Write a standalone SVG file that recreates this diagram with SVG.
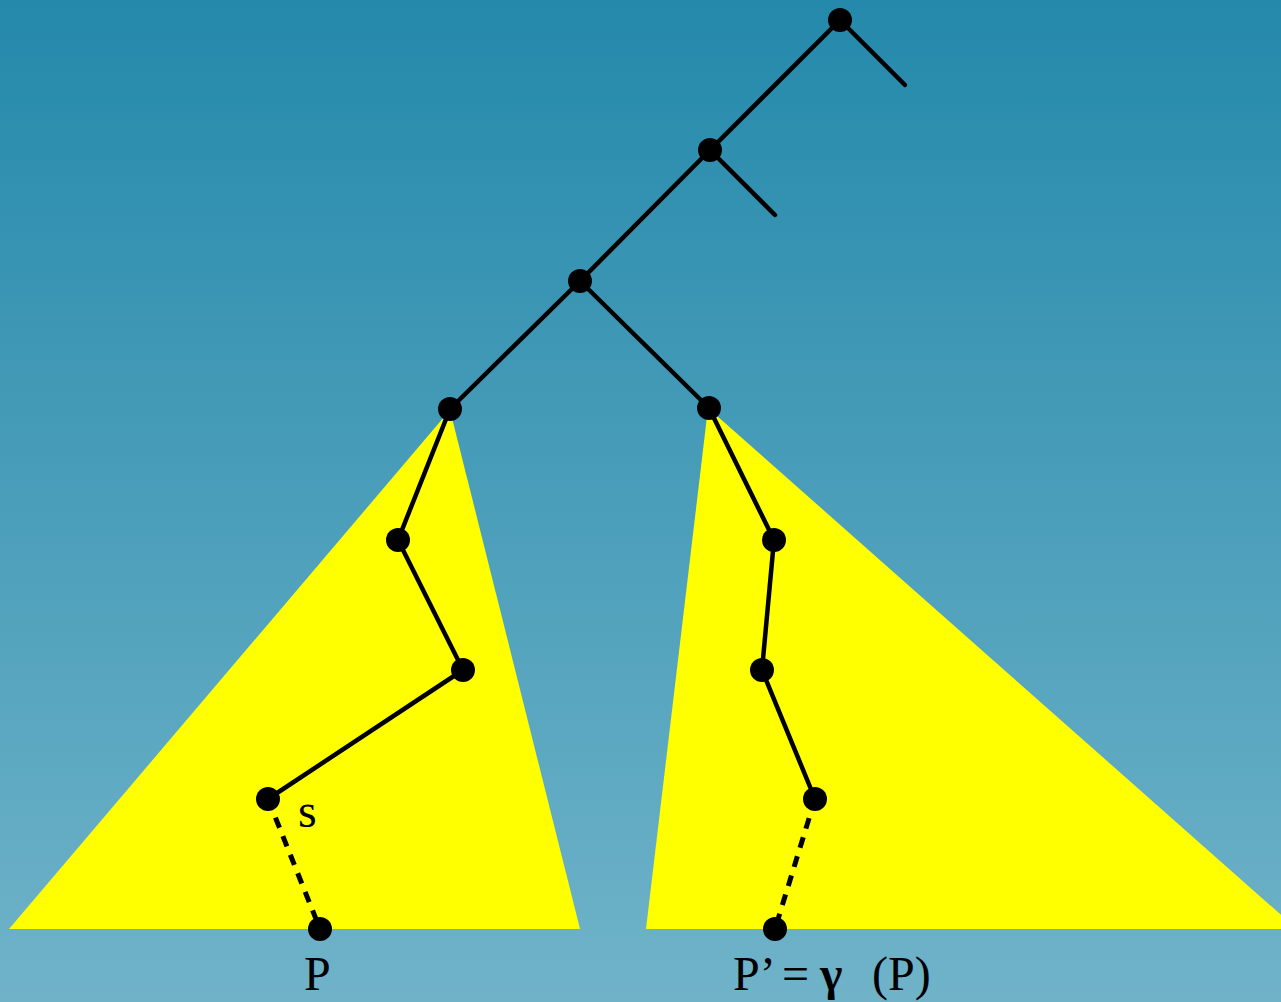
<svg xmlns="http://www.w3.org/2000/svg" width="1281" height="1002" viewBox="0 0 1281 1002">
<defs>
<linearGradient id="bg" x1="0" y1="0" x2="0" y2="1">
<stop offset="0" stop-color="#2489ab"/>
<stop offset="1" stop-color="#70b3c9"/>
</linearGradient>
<style>
.e{stroke:#000;stroke-width:4.5;fill:none;stroke-linecap:round}
.d{stroke:#000;stroke-width:5;fill:none;stroke-dasharray:11 9}
.n{fill:#000}
.t{font-family:"Liberation Serif","DejaVu Serif",serif;font-size:48px;fill:#000}
</style>
</defs>
<rect width="1281" height="1002" fill="url(#bg)"/>
<g id="triangles">
<polygon points="450,410 9,929 580,929" fill="#ffff00"/>
<polygon points="708,408 646,929 1297,929" fill="#ffff00"/>
</g>
<g id="connectors">
<line class="e" x1="840" y1="20" x2="905" y2="85"/>
<line class="e" x1="840" y1="20" x2="710" y2="150"/>
<line class="e" x1="710" y1="150" x2="775" y2="215"/>
<line class="e" x1="710" y1="150" x2="580" y2="281"/>
<line class="e" x1="580" y1="281" x2="450" y2="409"/>
<line class="e" x1="580" y1="281" x2="709" y2="408"/>
<line class="e" x1="450" y1="409" x2="398" y2="540"/>
<line class="e" x1="398" y1="540" x2="463" y2="670"/>
<line class="e" x1="463" y1="670" x2="268" y2="799"/>
<line class="d" x1="268" y1="799" x2="320" y2="929"/>
<line class="e" x1="709" y1="408" x2="774" y2="540"/>
<line class="e" x1="774" y1="540" x2="762" y2="670"/>
<line class="e" x1="762" y1="670" x2="815" y2="799"/>
<line class="d" x1="815" y1="799" x2="775" y2="929"/>
</g>
<g id="n1"><circle class="n" cx="840" cy="20" r="12"/></g>
<g id="n2"><circle class="n" cx="710" cy="150" r="12"/></g>
<g id="n3"><circle class="n" cx="580" cy="281" r="12"/></g>
<g id="n4"><circle class="n" cx="450" cy="409" r="12"/></g>
<g id="n5"><circle class="n" cx="709" cy="408" r="12"/></g>
<g id="n6"><circle class="n" cx="398" cy="540" r="12"/></g>
<g id="n7"><circle class="n" cx="463" cy="670" r="12"/></g>
<g id="n8"><circle class="n" cx="268" cy="799" r="12"/></g>
<g id="n9"><circle class="n" cx="320" cy="929" r="12"/></g>
<g id="n10"><circle class="n" cx="774" cy="540" r="12"/></g>
<g id="n11"><circle class="n" cx="762" cy="670" r="12"/></g>
<g id="n12"><circle class="n" cx="815" cy="799" r="12"/></g>
<g id="n13"><circle class="n" cx="775" cy="929" r="12"/></g>
<g id="labels">
<text class="t" x="298" y="827">s</text>
<text class="t" x="304" y="990">P</text>
<text class="t" y="990"><tspan x="733">P’</tspan><tspan x="782">=</tspan><tspan x="820" font-weight="bold">γ</tspan><tspan x="872">(P)</tspan></text>
</g>
</svg>
